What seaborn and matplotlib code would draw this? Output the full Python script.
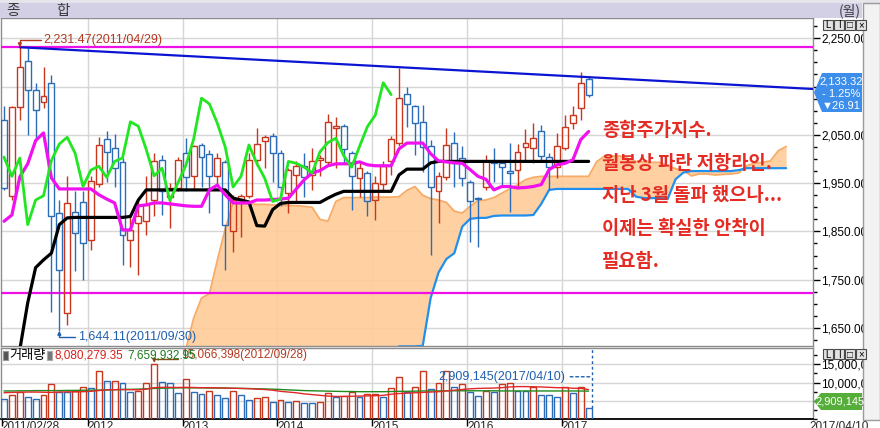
import numpy as np
import pandas as pd
import matplotlib
matplotlib.use("Agg")
import matplotlib.pyplot as plt
from matplotlib import font_manager as fm
from matplotlib.patches import Rectangle, Polygon
from matplotlib.ticker import FixedLocator, MultipleLocator, FuncFormatter, NullFormatter
import seaborn as sns

# ---------- data: KOSPI monthly candles 2011/02 ~ 2017/04 ----------
months = pd.period_range("2011-02", "2017-04", freq="M")

opens = [2081, 1924, 2107, 2202, 2143, 2119, 2158, 1888, 1682, 1891,
         1911, 1833, 1949, 2041, 2022, 1993, 1833, 1867, 1871, 1915,
         1998, 1922, 1940, 2013, 1964, 2029, 2011, 1964, 1993, 1850,
         1917, 1924, 1998, 2038, 2048, 2012, 1929, 1967, 1985, 1967,
         1997, 1993, 2064, 2068, 2013, 1960, 1971, 1915, 1949, 1995,
         2034, 2135, 2110, 2076, 2026, 1933, 1962, 2033, 2002, 1953,
         1919, 1943, 1995, 1991, 1976, 1978, 2025, 2022, 2058, 2004,
         1983, 2022, 2074, 2105, 2165]
highs = [2109, 2110, 2231.47, 2229, 2157, 2191, 2174, 1915, 1964, 1933,
         1933, 1964, 2046, 2059, 2052, 2002, 1881, 1915, 1964, 2012,
         2009, 1950, 2005, 2043, 2029, 2033, 2019, 2012, 1997, 1926,
         1928, 2012, 2064, 2050, 2053, 2019, 1981, 1995, 2012, 2022,
         2009, 2093, 2088, 2073, 2016, 1993, 1976, 1964, 1995, 2047,
         2188, 2150, 2112, 2112, 2040, 1974, 2064, 2055, 2027, 1957,
         1922, 2009, 2022, 1997, 2034, 2031, 2062, 2074, 2070, 2013,
         2053, 2091, 2110, 2181, 2170]
lows = [1936, 1915, 2081, 2050, 2040, 2105, 1684, 1644.11, 1656, 1767,
        1750, 1812, 1943, 1953, 1943, 1781, 1777, 1760, 1843, 1881,
        1884, 1857, 1933, 1933, 1936, 1943, 1888, 1946, 1771, 1808,
        1839, 1919, 1985, 1981, 1953, 1902, 1888, 1912, 1922, 1936,
        1964, 1985, 1981, 1991, 1895, 1922, 1881, 1874, 1933, 1967,
        2026, 2067, 2009, 1974, 1802, 1868, 1957, 1943, 1944, 1829,
        1817, 1936, 1953, 1943, 1891, 1943, 1998, 1991, 1998, 1936,
        1960, 2018, 2062, 2081, 2128]
closes = [1940, 2107, 2191, 2143, 2102, 2131, 1881, 1771, 1909, 1846,
          1826, 1955, 2029, 2015, 1981, 1843, 1853, 1881, 1905, 1995,
          1933, 1940, 1997, 1962, 2026, 2004, 1964, 2002, 1864, 1915,
          1924, 1997, 2031, 2045, 2012, 1943, 1977, 1985, 1962, 1995,
          2002, 2077, 2068, 2020, 1965, 1981, 1914, 1950, 1986, 2041,
          2126, 2114, 2074, 2025, 1942, 1964, 2029, 1991, 1960, 1912,
          1917, 1995, 1991, 1983, 1971, 2015, 2034, 2043, 2007, 1983,
          2026, 2067, 2091, 2158, 2133.32]

# volume, millions of shares
volumes = [5.46, 6.63, 7.53, 6.17, 5.46, 6.63, 9.56, 7.53, 7.45, 7.6,
           8.9, 8.46, 13.2, 10.3, 10.5, 9.83, 7.37, 7.7, 9.83, 15.066398,
           10.1, 9.83, 7.1, 10.9, 7.37, 6.9, 7.7, 6.63, 5.73, 7.7,
           6.63, 5.27, 5.73, 6.0, 4.72, 5.27, 4.64, 5.0, 4.53, 4.37,
           4.64, 7.1, 6.17, 6.44, 7.37, 6.17, 6.83, 6.9, 6.17, 8.46,
           11.47, 7.37, 8.9, 13.2, 8.27, 9.83, 13.2, 8.9, 9.56, 7.37,
           6.36, 7.73, 7.5, 9.56, 9.83, 7.8, 7.7, 8.9, 6.63, 6.6,
           6.0, 8.74, 7.1, 8.74, 2.909145]
vol_ma_red = [7.2, 7.3, 7.35, 7.4, 7.4, 7.35, 7.3, 7.4, 7.45, 7.45,
              7.5, 7.6, 7.8, 8.0, 8.05, 8.1, 8.05, 8.0, 8.2, 8.6,
              8.7, 8.7, 8.65, 8.7, 8.65, 8.6, 8.6, 8.55, 8.5, 8.45,
              8.4, 8.35, 8.2, 8.1, 7.9, 7.6, 7.4, 7.2, 6.9, 6.7,
              6.5, 6.3, 6.2, 6.2, 6.25, 6.3, 6.35, 6.4, 6.5, 6.8,
              7.0, 7.1, 7.2, 7.3, 7.4, 7.5, 7.7, 7.9, 8.1, 8.3,
              8.4, 8.45, 8.5, 8.6, 8.8, 8.9, 8.9, 8.85, 8.8, 8.7,
              8.6, 8.6, 8.45, 8.4, 8.08]
vol_ma_green = [7.7, 7.7, 7.75, 7.75, 7.8, 7.8, 7.8, 7.8, 7.85, 7.85,
                7.9, 7.9, 7.95, 8.0, 8.05, 8.1, 8.15, 8.2, 8.3, 8.4,
                8.45, 8.5, 8.55, 8.55, 8.55, 8.55, 8.5, 8.5, 8.5, 8.45,
                8.4, 8.35, 8.3, 8.25, 8.2, 8.1, 8.0, 7.9, 7.8, 7.75,
                7.7, 7.65, 7.6, 7.55, 7.55, 7.5, 7.5, 7.5, 7.5, 7.55,
                7.6, 7.6, 7.65, 7.7, 7.7, 7.7, 7.75, 7.75, 7.75, 7.75,
                7.75, 7.75, 7.75, 7.7, 7.7, 7.7, 7.7, 7.7, 7.7, 7.7,
                7.7, 7.7, 7.7, 7.68, 7.66]
vol_ma_red_last = 8080279.35
vol_ma_green_last = 7659932.95

# ichimoku lines
tenkan = [1871, 1884, 1963, 1990, 2038, 2054, 1961, 1938, 1938, 1938,
          1938, 1938, 1926, 1917, 1909, 1853, 1853, 1903, 1905, 1909,
          1909, 1907, 1905, 1903, 1902, 1902, 1936, 1946, 1926, 1909,
          1909, 1909, 1915, 1915, 1916, 1917, 1919, 1938, 1957, 1971,
          1976, 1986, 1990, 1990, 1990, 1994, 1988, 1986, 1986, 1986,
          2021, 2033, 2033, 2033, 2011, 1996, 1994, 1992, 1991, 1978,
          1964, 1958, 1936, 1943, 1943, 1940, 1941, 1943, 1947, 1978,
          1988, 1991, 1998, 2040, 2057]
kijun_start = 2
kijun = [1605, 1702, 1775, 1791, 1805, 1864, 1878, 1879, 1879, 1879,
         1879, 1879, 1879, 1879, 1881, 1915, 1936, 1936, 1936, 1936,
         1936, 1936, 1936, 1936, 1936, 1936, 1936, 1919, 1915, 1911,
         1862, 1861, 1895, 1908, 1910, 1910, 1910, 1910, 1910, 1919,
         1927, 1933, 1933, 1933, 1933, 1933, 1933, 1933, 1967, 1979,
         1979, 1979, 1992, 1995, 1995, 1995, 1995, 1995, 1995, 1995,
         1995, 1995, 1995, 1995, 1995, 1995, 1995, 1995, 1995, 1995,
         1995, 1995, 1995]
cloud_start = 23
span_a = [1605, 1670, 1712, 1721, 1790, 1855, 1909, 1907, 1907, 1906,
          1906, 1905, 1904, 1904, 1903, 1902, 1900, 1875, 1871, 1912,
          1920, 1920, 1920, 1920, 1921, 1921, 1921, 1922, 1935, 1943,
          1925, 1918, 1915, 1910, 1892, 1888, 1902, 1914, 1915, 1920,
          1929, 1938, 1946, 1957, 1962, 1964, 1964, 1964, 1964, 1964,
          1964, 1964, 1994, 2006, 2006, 2006, 2001, 1995, 1994, 1993,
          1993, 1986, 1980, 1976, 1965, 1969, 1969, 1967, 1968, 1969,
          1971, 1986, 1991, 1993, 1996, 2017, 2026]
span_b = [1560] * 27 + [
          1612, 1612, 1612, 1613, 1712, 1765, 1793, 1805, 1860, 1876,
          1878, 1878, 1882, 1883, 1883, 1883, 1883, 1884, 1907, 1936,
          1938, 1938, 1938, 1938, 1938, 1938, 1938, 1938, 1938, 1938,
          1922, 1919, 1919, 1919, 1917, 1958, 1972, 1975, 1975, 1975,
          1975, 1975, 1975, 1977, 1981, 1981, 1981, 1981, 1981, 1981]
chikou_shift = 25

resist_x = [2, 102.4]
resist_y = [2231.47, 2145.0]
high_line = 2231.47
low_line = 1722.0
price_ticks = [1650, 1750, 1850, 1950, 2050, 2150, 2250]
hidden_tick = 2150          # label sits under the current-price box
vol_ticks = [5, 10, 15]
jan_index = [11, 23, 35, 47, 59, 71]
year_labels = ["2012", "2013", "2014", "2015", "2016", "2017"]
last_change, last_change_pct = -26.91, -1.25

note_lines = ["종합주가지수.", "월봉상 파란 저항라인.", "지난 3월 돌파 했으나...",
              "이제는 확실한 안착이", "필요함."]

# ---------- style ----------
sns.set_theme(style="white")
plt.rcParams['font.family'] = ['Liberation Sans', 'Noto Sans CJK KR', 'DejaVu Sans']
names = {f.name for f in fm.fontManager.ttflist}
NUM = 'Liberation Sans Narrow' if 'Liberation Sans Narrow' in names else 'Liberation Sans'
NUM_SIZE = 10 if NUM.endswith('Narrow') else 8.5
KR = 'Noto Sans CJK KR'

RED, BLUE = '#C8361C', '#2A6CB8'
TXT_RED, TXT_BLUE = '#B5381E', '#1F5FAE'
GRID = '#D6D6D6'

W, H = 880, 428
fig = plt.figure(figsize=(W / 100, H / 100), dpi=100)
fig.patch.set_facecolor('white')


def fig_rect(x0, y0, x1, y1, **kw):
    fig.add_artist(Rectangle((x0 / W, 1 - y1 / H), (x1 - x0) / W, (y1 - y0) / H,
                             transform=fig.transFigure, **kw))


def fig_txt(x, y, s, **kw):
    fig.text(x / W, 1 - y / H, s, **kw)


def fig_poly(pts, **kw):
    fig.add_artist(Polygon([(x / W, 1 - y / H) for x, y in pts], closed=True,
                           transform=fig.transFigure, **kw))


ax = fig.add_axes([1 / W, 1 - 346 / H, 812 / W, 328 / H])
axv = fig.add_axes([1 / W, 1 - 419 / H, 812 / W, 71 / H])

o, h, l, c = map(np.array, (opens, highs, lows, closes))
idx = np.arange(len(c))
year_bounds = [j - 0.4 for j in jan_index]

# ---------- price panel ----------
ax.set_xlim(-0.38, 102.4)
ax.set_ylim(1612.7, 2292)
ax.set_axisbelow(True)
ax.grid(True, axis='y', color=GRID, lw=1)
for xb in year_bounds:
    ax.axvline(xb, color=GRID, lw=1, zorder=0)

# cloud
ci = np.arange(cloud_start, cloud_start + len(span_a))
ax.fill_between(ci, span_a, span_b, color='#FFCC99', alpha=0.92, lw=0, zorder=1)
sns.lineplot(x=ci, y=span_a, ax=ax, color='#F6AC68', lw=1.3, zorder=2, estimator=None)
sns.lineplot(x=ci, y=span_b, ax=ax, color='#2090EE', lw=1.6, zorder=2, estimator=None)

ax.axhline(high_line, color='#EE10E6', lw=1.6, zorder=3)
ax.axhline(low_line, color='#EE10E6', lw=1.6, zorder=3)

# candles (hollow bodies)
up = c >= o
col = np.where(up, RED, BLUE)
top = np.maximum(o, c)
bot = np.minimum(o, c)
ax.vlines(idx, top, h, colors=col, lw=1, zorder=4)
ax.vlines(idx, l, bot, colors=col, lw=1, zorder=4)
ax.bar(idx, np.maximum(top - bot, 1.5), bottom=bot, width=0.74, facecolor='none',
       edgecolor=col, lw=1, zorder=4)

# ichimoku lines
sns.lineplot(x=np.arange(kijun_start, kijun_start + len(kijun)), y=kijun, ax=ax,
             color='black', lw=2.3, zorder=5, estimator=None)
sns.lineplot(x=idx, y=tenkan, ax=ax, color='#F010F0', lw=2.3, zorder=6, estimator=None)
sns.lineplot(x=idx[:-chikou_shift], y=c[chikou_shift:], ax=ax, color='#22E622',
             lw=2.0, zorder=6, estimator=None)
sns.lineplot(x=resist_x, y=resist_y, ax=ax, color='#0A14D2', lw=1.6, zorder=6, estimator=None)

ax.set_xlabel(''); ax.set_ylabel('')
ax.set_xticks([])
ax.yaxis.tick_right()
ax.yaxis.set_major_locator(FixedLocator(price_ticks))
ax.yaxis.set_minor_locator(MultipleLocator(25))
ax.yaxis.set_major_formatter(FuncFormatter(lambda val, p: "" if val == hidden_tick else f"{val:,.2f}"))
ax.yaxis.set_minor_formatter(NullFormatter())
ax.tick_params(axis='y', which='major', length=5, width=1, pad=1, labelsize=NUM_SIZE,
               colors='black', labelfontfamily=NUM, right=True, left=False)
ax.tick_params(axis='y', which='minor', length=3, width=1, right=True, left=False, color='black')
for s in ax.spines.values():
    s.set_color('#8C8C8C'); s.set_linewidth(1)

# high / low markers
imax = int(np.argmax(h)); imin = int(np.argmin(l))
ax.annotate(f"{h[imax]:,.2f}(2011/04/29)", xy=(imax, h[imax]), xytext=(24, 7),
            textcoords='offset pixels', ha='left', va='center', color=TXT_RED,
            fontsize=NUM_SIZE + 0.5, family=NUM, zorder=8,
            arrowprops=dict(arrowstyle='-|>', color=TXT_RED, lw=1, shrinkA=0, shrinkB=0,
                            mutation_scale=5, relpos=(0, 0.5),
                            connectionstyle='angle,angleA=0,angleB=90,rad=0'))
ax.annotate(f"{l[imin]:,.2f}(2011/09/30)", xy=(imin, l[imin]), xytext=(19, -6),
            textcoords='offset pixels', ha='left', va='center', color=TXT_BLUE,
            fontsize=NUM_SIZE + 0.5, family=NUM, zorder=8,
            arrowprops=dict(arrowstyle='-|>', color=TXT_BLUE, lw=1, shrinkA=0, shrinkB=0,
                            mutation_scale=5, relpos=(0, 0.5),
                            connectionstyle='angle,angleA=0,angleB=90,rad=0'))

# ---------- volume panel ----------
v = np.array(volumes)
vcol = [BLUE] + [RED if v[k] >= v[k - 1] else BLUE for k in range(1, len(v))]
axv.set_xlim(-0.38, 102.4)
axv.set_ylim(0, 19.5)
axv.set_axisbelow(True)
axv.grid(True, axis='y', color=GRID, lw=1)
for xb in year_bounds:
    axv.axvline(xb, color=GRID, lw=1, zorder=0)
axv.bar(idx, v, width=0.74, facecolor='none', edgecolor=vcol, lw=1, zorder=3)
sns.lineplot(x=idx, y=vol_ma_green, ax=axv, color='#1E8A1E', lw=1, zorder=4, estimator=None)
sns.lineplot(x=idx, y=vol_ma_red, ax=axv, color='#E02828', lw=1, zorder=4, estimator=None)
axv.set_xlabel(''); axv.set_ylabel('')

axv.yaxis.tick_right()
axv.yaxis.set_major_locator(FixedLocator(vol_ticks))
axv.yaxis.set_minor_locator(MultipleLocator(2.5))
axv.yaxis.set_major_formatter(FuncFormatter(lambda val, p: f"{val * 1e6:,.0f}"))
axv.yaxis.set_minor_formatter(NullFormatter())
axv.tick_params(axis='y', which='major', length=5, width=1, pad=1, labelsize=NUM_SIZE,
                colors='black', labelfontfamily=NUM, right=True, left=False)
axv.tick_params(axis='y', which='minor', length=3, width=1, right=True, left=False, color='black')
axv.set_xticks([-0.3] + year_bounds)
axv.set_xticklabels([])
axv.tick_params(axis='x', which='major', length=5, width=1, direction='out', bottom=True,
                color='black')
for s in axv.spines.values():
    s.set_color('#8C8C8C'); s.set_linewidth(1)
axv.spines['bottom'].set_color('black')
axv.spines['bottom'].set_linewidth(1.3)

xt = axv.get_xaxis_transform()
axv.text(-0.3, -0.03, "2011/02/28", transform=xt, ha='left', va='top', fontsize=NUM_SIZE,
         family=NUM, clip_on=False)
for xb, lab in zip(year_bounds, year_labels):
    axv.text(xb, -0.03, lab, transform=xt, ha='left', va='top', fontsize=NUM_SIZE,
             family=NUM, clip_on=False)
axv.text(102.0, -0.03, "2017/04/10", transform=xt, ha='left', va='top', fontsize=NUM_SIZE,
         family=NUM, clip_on=False)

vmax_i = int(np.argmax(v))
axv.annotate(f"{v[vmax_i] * 1e6:,.0f}(2012/09/28)", xy=(vmax_i, v[vmax_i]), xytext=(27, 9),
             textcoords='offset pixels', ha='left', va='center', color=TXT_RED,
             fontsize=NUM_SIZE, family=NUM, zorder=8,
             arrowprops=dict(arrowstyle='-|>', color='#8B4A1A', lw=1, shrinkA=0, shrinkB=1,
                             mutation_scale=5, relpos=(0, 0.15),
                             connectionstyle='angle,angleA=0,angleB=90,rad=0'))
last_x = idx[-1] + 0.37
axv.vlines(last_x, v[-1], 19.5, colors=TXT_BLUE, lw=1, linestyles=(0, (2, 2)), zorder=5)
axv.annotate(f"{v[-1] * 1e6:,.0f}(2017/04/10)", xy=(last_x, 11.6), xytext=(-26, 0),
             textcoords='offset pixels', ha='right', va='center', color=TXT_BLUE,
             fontsize=NUM_SIZE + 0.5, family=NUM, zorder=8,
             arrowprops=dict(arrowstyle='-', color=TXT_BLUE, lw=1, linestyle=(0, (2, 2)),
                             shrinkA=1, shrinkB=0, relpos=(1, 0.5)))

# ---------- commentary ----------
for k, line in enumerate(note_lines):
    fig_txt(602, 130.5 + k * 32.7, line, family=KR, fontsize=13.5, fontweight='bold',
            color='#E42B24', va='center', ha='left', zorder=9)

# ---------- chrome: header, toolbar, value boxes ----------
fig_rect(0, 0, 880, 3, facecolor='#E4E4EA', lw=0, zorder=10)
fig_rect(0, 3, 862, 18, facecolor='#D3D0E6', lw=0, zorder=10)
fig_txt(6, 10.5, "종", family=KR, fontsize=10.5, color='#3A3A3A', va='center', zorder=11)
fig_txt(56, 10.5, "합", family=KR, fontsize=10.5, color='#3A3A3A', va='center', zorder=11)
fig_txt(861, 10.5, "(월)", family=KR, fontsize=10, color='#3A3A3A', va='center', ha='right', zorder=11)
fig_rect(863, 3, 880, 420, facecolor='#F2F2F2', edgecolor='#9A9A9A', lw=1, zorder=10)

for yb in (20, 349):
    for k, ch in enumerate(["L", "I", "□", "×"]):
        x0 = 823 + k * 11
        fig_rect(x0, yb, x0 + 10, yb + 10, facecolor='#E2E2E2', edgecolor='#4A4A4A', lw=0.8, zorder=11)
        fig_txt(x0 + 5, yb + 5.5, ch, fontsize=7, color='black', ha='center', va='center',
                family=['Liberation Sans', KR], zorder=12)

BOX_SIZE = NUM_SIZE - 0.5
fig_poly([(814, 92.5), (822, 73), (862, 73), (862, 112), (822, 112)],
         facecolor='#3D8DEA', edgecolor='none', zorder=11)
fig_txt(841, 81.5, f"{c[-1]:,.2f}", family=NUM, fontsize=BOX_SIZE, color='white',
        ha='center', va='center', zorder=12)
fig_txt(841, 94, f"- {abs(last_change_pct):.2f}%", family=NUM, fontsize=BOX_SIZE, color='white',
        ha='center', va='center', zorder=12)
fig_txt(841, 106, f"▼{abs(last_change):.2f}", family=[NUM, 'DejaVu Sans'], fontsize=BOX_SIZE,
        color='white', ha='center', va='center', zorder=12)

fig_poly([(814, 401.5), (821, 393), (862, 393), (862, 410), (821, 410)],
         facecolor='#55AE3A', edgecolor='none', zorder=11)
fig_txt(840, 401.5, f"{v[-1] * 1e6:,.0f}", family=NUM, fontsize=BOX_SIZE, color='white',
        ha='center', va='center', zorder=12)

# volume header labels
fig_rect(3, 351, 8, 360, facecolor='#555555', edgecolor='#999999', lw=0.8, zorder=11)
fig_txt(9.5, 355.5, "거래량", family=KR, fontsize=9.5, color='black', va='center', zorder=11)
fig_rect(47, 351, 52, 360, facecolor='#777777', edgecolor='#AAAAAA', lw=0.8, zorder=11)
fig_txt(54, 355.5, f"{vol_ma_red_last:,.2f}", family=NUM, fontsize=NUM_SIZE,
        color='#D8201A', va='center', zorder=11)
fig_txt(127, 355.5, f"{vol_ma_green_last:,.2f}", family=NUM, fontsize=NUM_SIZE,
        color='#1E7A1E', va='center', zorder=11)

fig.savefig("out.png", dpi=100)
